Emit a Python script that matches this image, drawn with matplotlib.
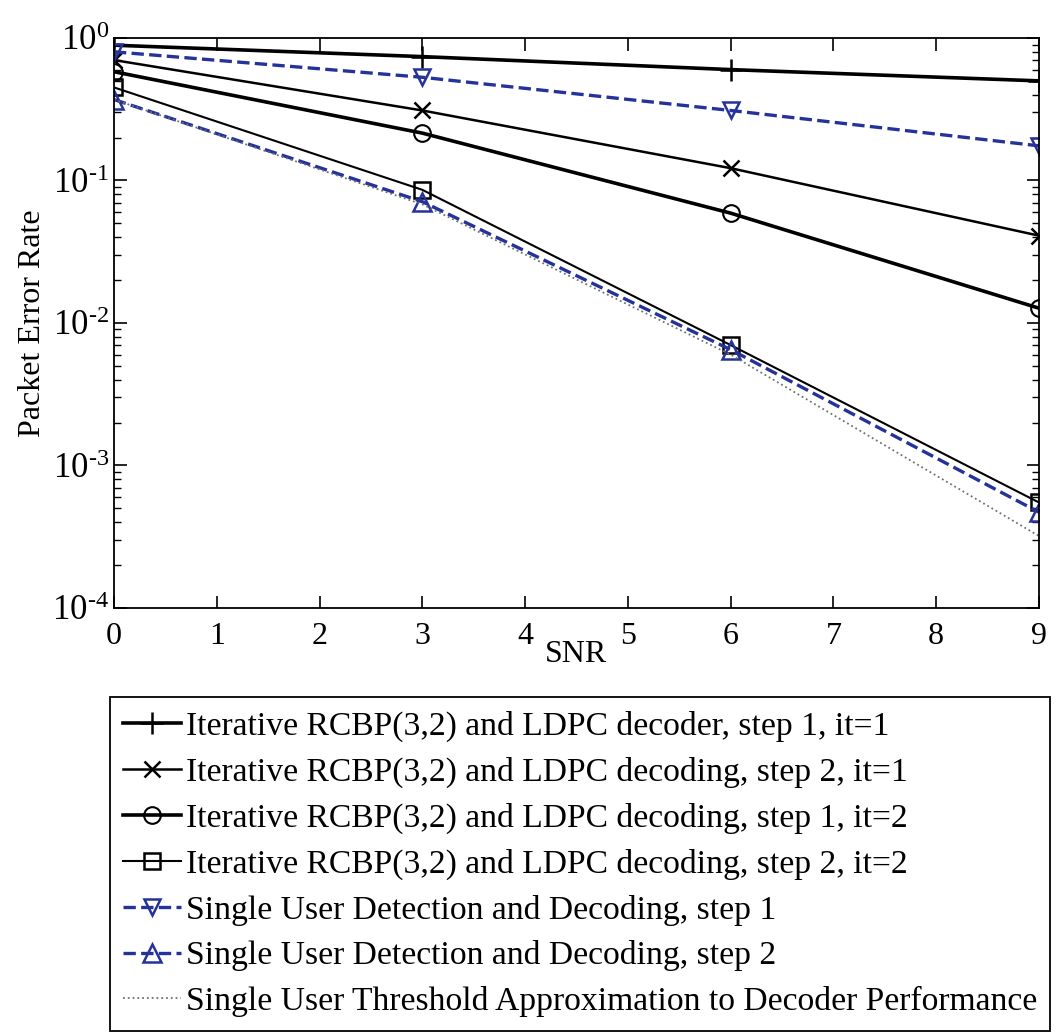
import numpy as np
import matplotlib
matplotlib.use('Agg')
import matplotlib.pyplot as plt

plt.rcParams['font.family'] = ['Liberation Serif', 'DejaVu Serif']
plt.rcParams['mathtext.fontset'] = 'custom'
plt.rcParams['mathtext.rm'] = 'Liberation Serif'
plt.rcParams['mathtext.it'] = 'Liberation Serif'

# data
snr = [0, 3, 6, 9]
it1_step1 = [0.89, 0.74, 0.60, 0.50]
it1_step2 = [0.70, 0.31, 0.122, 0.041]
it2_step1 = [0.58, 0.215, 0.059, 0.0127]
it2_step2 = [0.45, 0.086, 0.0070, 5.5e-4]
sud_step1 = [0.80, 0.53, 0.31, 0.175]
sud_step2 = [0.37, 0.071, 0.0065, 4.7e-4]
threshold = [0.37, 0.068, 0.0060, 3.2e-4]

labels = ['Iterative RCBP(3,2) and LDPC decoder, step 1, it=1',
          'Iterative RCBP(3,2) and LDPC decoding, step 2, it=1',
          'Iterative RCBP(3,2) and LDPC decoding, step 1, it=2',
          'Iterative RCBP(3,2) and LDPC decoding, step 2, it=2',
          'Single User Detection and Decoding, step 1',
          'Single User Detection and Decoding, step 2',
          'Single User Threshold Approximation to Decoder Performance']
ytick_labels = ['$10^{\\text{-4}}$', '$10^{\\text{-3}}$', '$10^{\\text{-2}}$',
                '$10^{\\text{-1}}$', '$10^{\\text{0}}$']

blue = '#24329a'

fig = plt.figure(figsize=(10.61, 10.35), dpi=100)
ax = fig.add_axes([0.1074, 0.4126, 0.8718, 0.5507])

ax.semilogy(snr, it1_step1, '-+', color='k', lw=2.6, ms=16, mew=1.8, label=labels[0])
ax.semilogy(snr, it1_step2, '-x', color='k', lw=1.8, ms=11, mew=1.8, label=labels[1])
ax.semilogy(snr, it2_step1, '-o', color='k', lw=2.6, ms=12, mew=1.5, mfc='none', label=labels[2])
ax.semilogy(snr, it2_step2, '-s', color='k', lw=1.5, ms=12, mew=1.8, mfc='none', label=labels[3])
ax.semilogy(snr, sud_step1, '--v', color=blue, lw=2.4, ms=11, mew=1.8, mfc='none', label=labels[4])
ax.semilogy(snr, sud_step2, '--^', color=blue, lw=2.4, ms=13, mew=1.8, mfc='none', label=labels[5])
ax.semilogy(snr, threshold, ':', color='#707070', lw=1.3, label=labels[6])

ax.set_xlim(0, 9)
ax.set_ylim(1e-4, 1)
ax.set_xticks(range(10))
ax.set_yticks([1e-4, 1e-3, 1e-2, 1e-1, 1])
ax.set_yticklabels(ytick_labels)
ax.tick_params(which='both', direction='in', top=True, right=True, labelsize=23)
ax.tick_params(axis='y', labelsize=25)
ax.tick_params(which='major', length=9, width=1.2)
ax.tick_params(which='minor', length=5, width=1)
ax.tick_params(axis='x', pad=10)
for s in ax.spines.values():
    s.set_linewidth(1.3)

ax.set_ylabel('Packet Error Rate', fontsize=23)
ax.set_xlabel('SNR', fontsize=23)
ax.xaxis.set_label_coords(0.5, -0.082)
ax.xaxis.label.set_va('center')

leg = fig.legend(loc='upper left', bbox_to_anchor=(0.1037, 0.3266), fontsize=24.2,
                 frameon=True, fancybox=False, edgecolor='k', framealpha=1,
                 borderaxespad=0, labelspacing=0.44, handlelength=1.7,
                 handletextpad=0.15, borderpad=0.4)
leg.get_frame().set_linewidth(1.3)

fig.savefig('out.png', dpi=100)
